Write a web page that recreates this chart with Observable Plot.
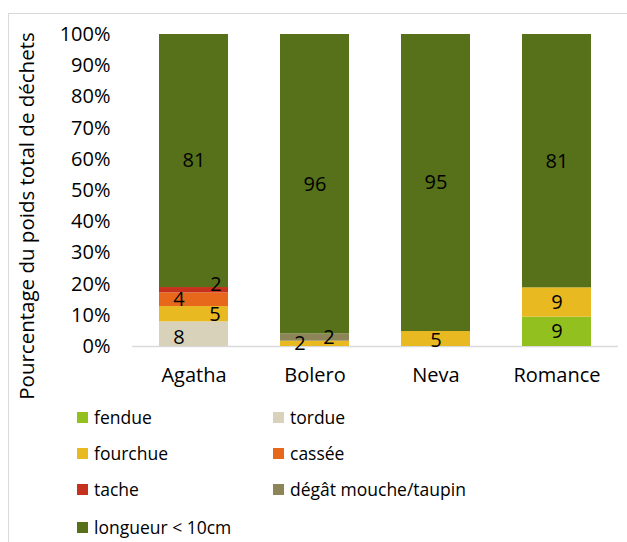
<!DOCTYPE html>
<html>
<head>
<meta charset="utf-8">
<script src="https://cdn.jsdelivr.net/npm/d3@7"></script>
<script src="https://cdn.jsdelivr.net/npm/@observablehq/plot@0.6"></script>
<style>
  html, body { margin: 0; padding: 0; background: #fff; }
  #wrap { position: relative; width: 627px; height: 542px; overflow: hidden; font-family: "Open Sans", sans-serif; color: #000; }
  #frame { position: absolute; left: 8px; top: 13px; width: 640px; height: 560px; border-left: 1px solid #d9d9d9; border-top: 1px solid #d9d9d9; }
  #chart { position: absolute; left: 0; top: 0; }
  #ytitle { position: absolute; left: 26px; top: 216px; transform: translate(-50%, -50%) rotate(-90deg); white-space: nowrap; font-size: 20.5px; }
  .leg { position: absolute; display: flex; align-items: center; font-size: 17.5px; white-space: nowrap; }
  .leg .sw { width: 11px; height: 11px; margin-right: 6px; }
</style>
</head>
<body>
<div id="wrap">
  <div id="frame"></div>
  <div id="chart"></div>
  <div id="ytitle">Pourcentage du poids total de déchets</div>
  <div id="legend"></div>
</div>
<script>
// ---- data ----
const varieties = ["Agatha", "Bolero", "Neva", "Romance"];
const categories = ["fendue", "tordue", "fourchue", "cassée", "tache", "dégât mouche/taupin", "longueur < 10cm"];
const fendue   = [0,    0,    0,    9.4];
const tordue   = [7.9,  0,    0,    0];
const fourchue = [4.9,  1.7,  4.8,  9.4];
const cassee   = [4.4,  0,    0,    0];
const tache    = [1.7,  0,    0,    0];
const degat    = [0,    2.3,  0,    0];
const longueur = [81.1, 96.0, 95.2, 81.2];
const yTicks = [0, 10, 20, 30, 40, 50, 60, 70, 80, 90, 100];

// ---- styles ----
const colors = ["#92c01f", "#d8d2bb", "#e8b921", "#e8681b", "#c5311c", "#8d8557", "#56711a"];
const seriesValues = [fendue, tordue, fourchue, cassee, tache, degat, longueur];

// rows in stacking order, with the midpoint of each segment for its label
const rows = [];
varieties.forEach((v, vi) => {
  let acc = 0;
  categories.forEach((c, ci) => {
    const val = seriesValues[ci][vi];
    if (val > 0) {
      rows.push({variety: v, category: c, value: val, mid: acc + val / 2});
      acc += val;
    }
  });
});

// label nudges (pixels) to mimic the reference's label placement
const nudge = {
  "Agatha|tordue": [-15, 3],
  "Agatha|fourchue": [21, 0],
  "Agatha|cassée": [-15, 0],
  "Agatha|tache": [22, -6],
  "Bolero|fourchue": [-15, 0],
  "Bolero|dégât mouche/taupin": [14, 0],
  "Neva|fourchue": [0, 2]
};
const nd = (d) => nudge[d.variety + "|" + d.category] || [0, 0];

const font = "Open Sans, sans-serif";
const chart = Plot.plot({
  width: 627,
  height: 400,
  marginTop: 34,
  marginBottom: 54,
  marginLeft: 132,
  marginRight: 9,
  style: {fontFamily: font, fontSize: "20px", color: "#000", background: "transparent"},
  x: {domain: varieties, paddingInner: 0.43, paddingOuter: 0.215, label: null},
  y: {domain: [0, 100], label: null},
  color: {domain: categories, range: colors},
  marks: [
    Plot.ruleY([0], {stroke: "#d9d9d9", strokeWidth: 1.5}),
    Plot.barY(rows, Plot.stackY({x: "variety", y: "value", fill: "category", order: categories})),
    ...rows.map(r => Plot.text([r], {
      x: "variety", y: "mid",
      text: d => String(Math.round(d.value)),
      fill: "#000", fontSize: 20,
      dx: nd(r)[0], dy: nd(r)[1]
    })),
    Plot.axisX({tickSize: 0, tickPadding: 21, fontSize: 20, fill: "#000"}),
    Plot.axisY({ticks: yTicks, tickSize: 0, tickPadding: 22, fontSize: 20, fill: "#000", tickFormat: d => d + "%"})
  ]
});
document.getElementById("chart").appendChild(chart);

// ---- legend ----
const legend = document.getElementById("legend");
const legX = [77, 273];
const legY = [417, 453, 489, 527];
categories.forEach((c, i) => {
  const el = document.createElement("div");
  el.className = "leg";
  el.style.left = legX[i % 2] + "px";
  el.style.top = (legY[Math.floor(i / 2)] - 14) + "px";
  el.style.height = "28px";
  const sw = document.createElement("span");
  sw.className = "sw";
  sw.style.background = colors[i];
  const t = document.createElement("span");
  t.textContent = c;
  el.appendChild(sw);
  el.appendChild(t);
  legend.appendChild(el);
});
</script>
</body>
</html>
